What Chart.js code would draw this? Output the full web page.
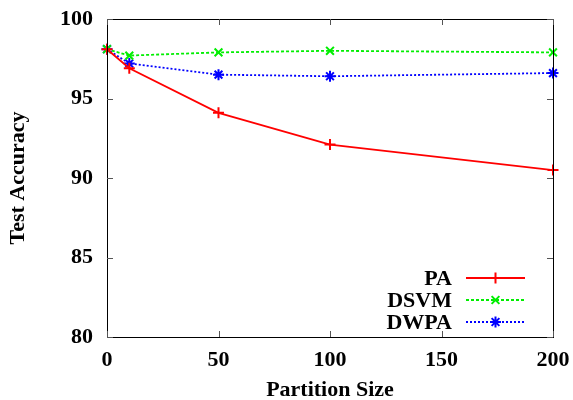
<!DOCTYPE html>
<html><head><meta charset="utf-8">
<script src="https://cdn.jsdelivr.net/npm/chart.js@4/dist/chart.umd.min.js"></script>
<style>html,body{margin:0;padding:0;background:#fff}#w{width:573px;height:400px}</style>
</head><body><div id="w"><canvas id="c"></canvas></div>
<script>
const partitionSizes = [0, 10, 50, 100, 200];
const paValues = [98.1, 96.9, 94.1, 92.1, 90.5];
const dsvmValues = [98.1, 97.7, 97.9, 98.0, 97.9];
const dwpaValues = [98.1, 97.2, 96.5, 96.4, 96.6];
const xTicks = [0, 50, 100, 150, 200];
const yTicks = [80, 85, 90, 95, 100];
const seriesNames = ['PA', 'DSVM', 'DWPA'];

const FONT = 'Liberation Serif';
const toPts = v => partitionSizes.map((x, i) => ({x, y: v[i]}));

const frameTicks = {
  id: 'frameTicks',
  afterDatasetsDraw(chart) {
    const {ctx, chartArea: a, scales: {x, y}} = chart;
    ctx.save();
    ctx.strokeStyle = '#000'; ctx.lineWidth = 1;
    ctx.strokeRect(a.left + 0.5, a.top + 0.5, a.right - a.left, a.bottom - a.top);
    ctx.strokeStyle = '#555';
    const L = 6;
    xTicks.forEach(t => {
      const p = Math.round(x.getPixelForValue(t)) + 0.5;
      ctx.beginPath(); ctx.moveTo(p, a.bottom); ctx.lineTo(p, a.bottom - L);
      ctx.moveTo(p, a.top); ctx.lineTo(p, a.top + L); ctx.stroke();
    });
    yTicks.forEach(t => {
      const p = Math.round(y.getPixelForValue(t)) + 0.5;
      ctx.beginPath(); ctx.moveTo(a.left, p); ctx.lineTo(a.left + L, p);
      ctx.moveTo(a.right, p); ctx.lineTo(a.right - L, p); ctx.stroke();
    });
    // legend
    ctx.font = 'bold 22px "' + FONT + '"';
    ctx.textAlign = 'right'; ctx.textBaseline = 'middle'; ctx.fillStyle = '#000';
    const textRight = 452, lx0 = 466, lx1 = 525, ys = [278, 300, 322];
    chart.data.datasets.forEach((ds, i) => {
      const yy = ys[i];
      ctx.fillStyle = '#000';
      ctx.fillText(ds.label, textRight, yy + 1);
      ctx.save();
      ctx.strokeStyle = ds.borderColor; ctx.lineWidth = ds.borderWidth;
      ctx.setLineDash(ds.borderDash || []);
      ctx.beginPath(); ctx.moveTo(lx0, yy); ctx.lineTo(lx1, yy); ctx.stroke();
      ctx.restore();
      ctx.save();
      ctx.strokeStyle = ds.borderColor; ctx.fillStyle = ds.borderColor;
      ctx.lineWidth = ds.pointBorderWidth;
      Chart.helpers.drawPoint(ctx, {pointStyle: ds.pointStyle, radius: ds.pointRadius, borderWidth: ds.pointBorderWidth, rotation: 0}, (lx0 + lx1) / 2, yy);
      ctx.restore();
    });
    ctx.restore();
  }
};

function mk(label, vals, color, dash, style) {
  return {label, data: toPts(vals), borderColor: color, backgroundColor: color,
    borderWidth: 1.8, borderDash: dash, pointStyle: style, pointRadius: 5.5,
    pointBorderWidth: 2, pointBorderColor: color, tension: 0, clip: false};
}

new Chart(document.getElementById('c'), {
  type: 'line',
  data: { datasets: [
    mk(seriesNames[0], paValues, '#ff0000', [], 'cross'),
    mk(seriesNames[1], dsvmValues, '#00ee00', [3, 2], 'crossRot'),
    mk(seriesNames[2], dwpaValues, '#0000ff', [2, 2], 'star')
  ]},
  options: {
    responsive: true, maintainAspectRatio: false, animation: false,
    layout: {padding: {left: 0, top: 19, right: 20, bottom: 0}},
    plugins: {legend: {display: false}, tooltip: {enabled: false}},
    scales: {
      x: {type: 'linear', min: 0, max: 200,
        afterBuildTicks: s => { s.ticks = xTicks.map(v => ({value: v})); },
        afterFit: s => { s.height = 63; s.paddingLeft = 0; s.paddingRight = 0; },
        grid: {display: false, drawTicks: false}, border: {display: false},
        ticks: {padding: 10, color: '#000', font: {family: FONT, size: 22, weight: 'bold'}, maxRotation: 0},
        title: {display: true, text: 'Partition Size', color: '#000', padding: {top: 4, bottom: 0},
          font: {family: FONT, size: 22, weight: 'bold', lineHeight: 0.85}}},
      y: {min: 80, max: 100,
        afterBuildTicks: s => { s.ticks = yTicks.map(v => ({value: v})); },
        afterFit: s => { s.width = 107; s.paddingTop = 0; s.paddingBottom = 0; },
        grid: {display: false, drawTicks: false}, border: {display: false},
        ticks: {padding: 14, color: '#000', font: {family: FONT, size: 22, weight: 'bold'}},
        title: {display: true, text: 'Test Accuracy', color: '#000', padding: {top: 5, bottom: 0},
          font: {family: FONT, size: 22, weight: 'bold'}}}
    }
  },
  plugins: [frameTicks]
});
</script></body></html>
